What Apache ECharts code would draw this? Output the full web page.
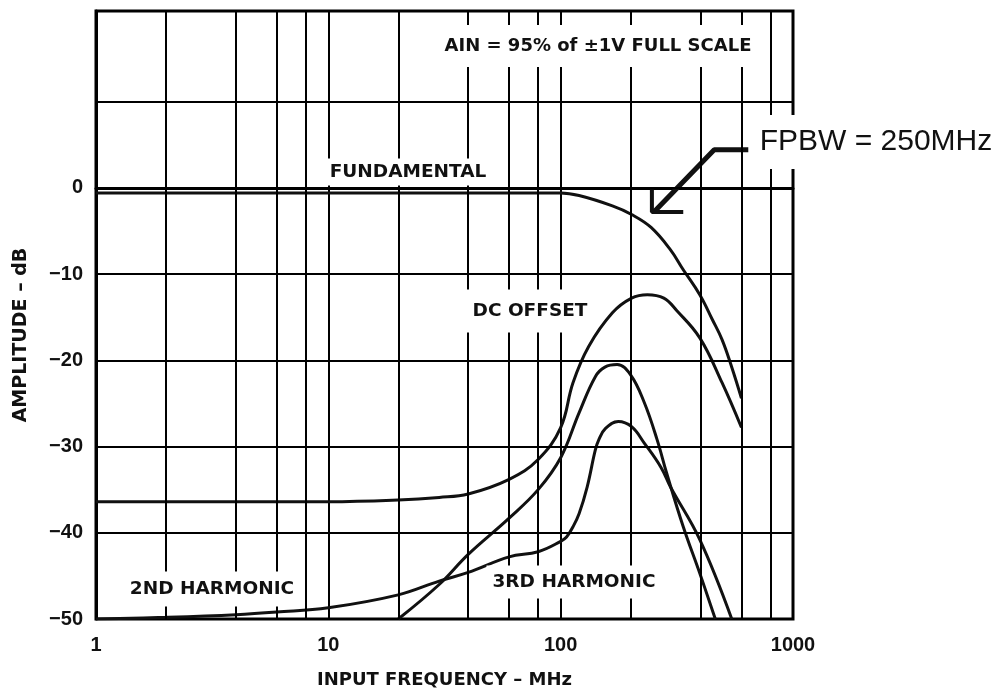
<!DOCTYPE html>
<html>
<head>
<meta charset="utf-8">
<title>Amplitude vs Input Frequency</title>
<script src="https://cdn.jsdelivr.net/npm/echarts@6/dist/echarts.min.js"></script>
<style>
  html, body { margin: 0; padding: 0; background: #fff; }
  #chart { width: 1005px; height: 691px; }
</style>
</head>
<body>
<div id="chart"></div>
<script>
// values: frequency in MHz, amplitude in dB
const fundFreq = [1, 10, 100, 120, 167, 202, 245, 297, 337, 397, 450, 495, 545, 600];
const fundAmp  = [-0.6, -0.6, -0.6, -0.9, -2.1, -3.1, -4.6, -7.2, -9.5, -12.4, -15.3, -17.6, -20.8, -24.4];

const dcFreq = [1, 10, 20, 30, 40, 60, 80, 100, 113, 132, 167, 202, 236, 278, 315, 397, 495, 600];
const dcAmp  = [-36.4, -36.4, -36.2, -35.9, -35.5, -33.8, -31.5, -27.8, -22.6, -18.4, -14.5, -12.8, -12.4, -12.8, -14.2, -17.4, -22.6, -27.8];

// harmonic starting at 1 MHz (knee near 100 MHz, lower peak)
const h2Freq = [1, 2, 4, 6, 10, 20, 30, 40, 60, 80, 100, 106, 113, 120, 130, 141, 146, 156, 177, 202, 229, 270, 297, 397, 545];
const h2Amp  = [-50, -49.8, -49.5, -49.2, -48.7, -47.2, -45.6, -44.6, -42.8, -42.2, -41.0, -40.5, -39.3, -37.8, -34.7, -30.4, -29.2, -27.9, -27.1, -27.7, -29.6, -32.4, -34.7, -40.8, -50];

// harmonic starting at 20 MHz (tall peak)
const h3Freq = [20, 30, 40, 60, 80, 100, 120, 141, 155, 175, 200, 229, 260, 286, 337, 397, 463];
const h3Amp  = [-50, -46.0, -42.5, -38.3, -35.0, -31.3, -26.1, -21.9, -20.8, -20.5, -21.7, -24.9, -29.2, -33.1, -39.3, -44.7, -50];

// FPBW arrow, in data coordinates
const arrowShaft = [[642, 4.4], [458, 4.4], [252, -2.8]];
const arrowHead  = [[247, -0.2], [247, -2.8], [337, -2.8]];

// grid lines inside the frame
const xGridExtra = [2, 4, 6, 8, 20, 40, 60, 80, 200, 400, 600, 800];
const yGrid = [-40, -30, -20, -10, 0, 10];
const yMin = -50, yMax = 20.5, yStep = 10;

const zip = (xs, ys) => xs.map((x, i) => [x, ys[i]]);

const chart = echarts.init(document.getElementById('chart'));

const curve = (name, xs, ys, extra) => Object.assign({
    name: name,
    type: 'line',
    data: zip(xs, ys),
    symbol: 'none',
    smooth: 0.4,
    silent: true,
    z: 3,
    lineStyle: { color: '#111', width: 3 }
}, extra || {});

const labelBox = (text, x, y, size, pad, weight, family) => ({
    type: 'text',
    x: x,
    y: y,
    z: 100,
    style: {
        text: text,
        font: (weight || 'bold') + ' ' + size + 'px ' + (family || '"DejaVu Sans"'),
        fill: '#111',
        align: 'center',
        verticalAlign: 'middle',
        backgroundColor: '#fff',
        padding: pad
    }
});

chart.setOption({
    animation: false,
    backgroundColor: '#fff',
    grid: {
        left: 96, right: 212, top: 11, bottom: 72,
        outerBoundsMode: 'none',
        show: true, borderColor: '#000', borderWidth: 3
    },
    xAxis: {
        type: 'log',
        logBase: 10,
        min: 1,
        max: 1000,
        name: 'INPUT FREQUENCY – MHz',
        nameLocation: 'middle',
        nameGap: 52,
        nameTextStyle: { fontFamily: '"DejaVu Sans"', fontWeight: 'bold', fontSize: 18, color: '#111' },
        axisLine: { lineStyle: { color: '#000', width: 3 } },
        axisTick: { show: false },
        axisLabel: {
            margin: 16,
            fontFamily: '"Liberation Sans"', fontWeight: 'bold', fontSize: 20, color: '#111',
            formatter: v => String(v)
        },
        splitLine: { show: true, lineStyle: { color: '#000', width: 2 } }
    },
    yAxis: {
        type: 'value',
        min: yMin,
        max: yMax,
        interval: yStep,
        axisLine: { lineStyle: { color: '#000', width: 3 } },
        axisTick: { show: false },
        axisLabel: {
            margin: 13,
            fontFamily: '"Liberation Sans"', fontWeight: 'bold', fontSize: 20, color: '#111',
            formatter: v => v > 0 ? '' : (v < 0 ? '\u2212' + Math.abs(v) : '0')
        },
        splitLine: { show: false }
    },
    series: [
        curve('Fundamental', fundFreq, fundAmp, {
            markLine: {
                silent: true,
                symbol: ['none', 'none'],
                label: { show: false },
                lineStyle: { color: '#000', width: 2, type: 'solid' },
                data: xGridExtra.map(f => ({ xAxis: f })).concat(yGrid.map(v => ({ yAxis: v })))
            }
        }),
        curve('DC Offset', dcFreq, dcAmp),
        curve('2nd Harmonic', h2Freq, h2Amp),
        curve('3rd Harmonic', h3Freq, h3Amp),
        curve('arrow', arrowShaft.map(p => p[0]), arrowShaft.map(p => p[1]), { smooth: false, lineStyle: { color: '#111', width: 5 } }),
        curve('arrowhead', arrowHead.map(p => p[0]), arrowHead.map(p => p[1]), { smooth: false, lineStyle: { color: '#111', width: 4 } })
    ],
    graphic: [
        labelBox('AIN = 95% of ±1V FULL SCALE', 598, 46, 18, [12, 10]),
        labelBox('FUNDAMENTAL', 408, 172, 18.5, [4, 5]),
        labelBox('DC OFFSET', 530, 311, 18.5, [12, 6]),
        labelBox('2ND HARMONIC', 212, 589, 18.5, [8, 6]),
        labelBox('3RD HARMONIC', 574, 582, 18.5, [6, 6, 8, 6]),
        labelBox('FPBW = 250MHz', 876, 142, 30, [12, 5], 'normal', '"Liberation Sans"'),
        {
            type: 'text',
            x: 21,
            y: 335,
            rotation: Math.PI / 2,
            style: {
                text: 'AMPLITUDE – dB',
                font: 'bold 19px "DejaVu Sans"',
                fill: '#111',
                align: 'center',
                verticalAlign: 'middle'
            }
        }
    ]
});

window.addEventListener('resize', () => chart.resize());
</script>
</body>
</html>
